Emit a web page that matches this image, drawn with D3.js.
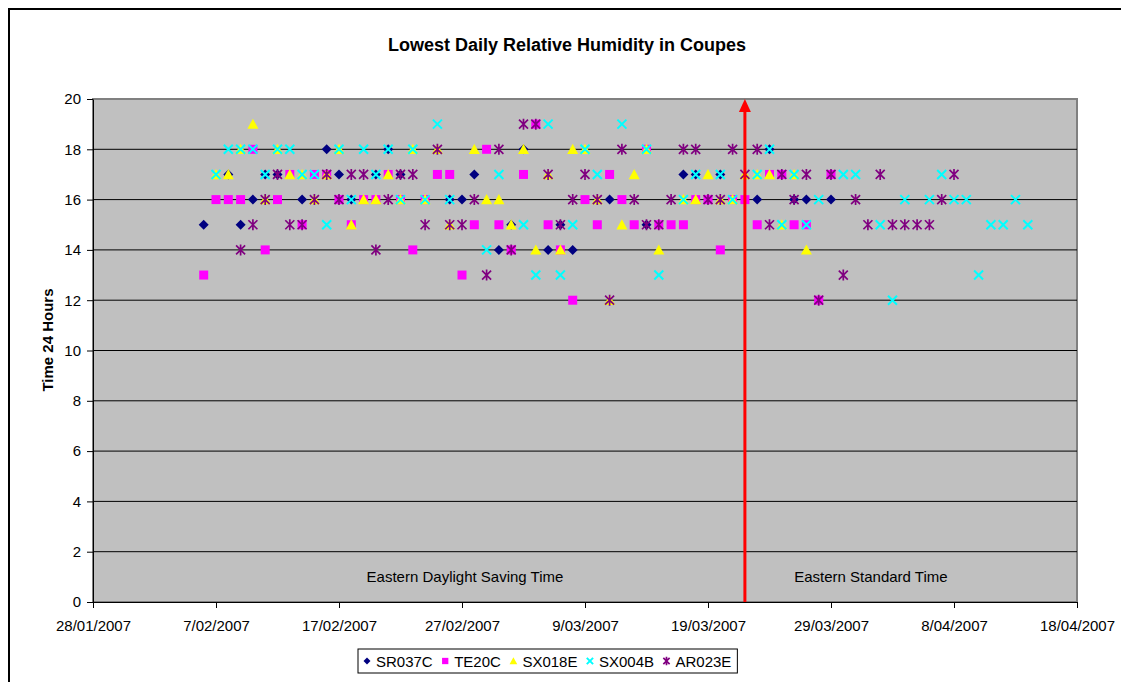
<!DOCTYPE html>
<html>
<head>
<meta charset="utf-8">
<script src="https://cdn.jsdelivr.net/npm/d3@7"></script>
<style>
	body { margin: 0; background: #ffffff; }
	svg { display: block; font-family: Arial, "Liberation Sans", sans-serif; }
</style>
</head>
<body>
<script>
//Width and height
var w = 1121;
var h = 682;
var plot = { left: 93, top: 99, right: 1077, bottom: 602 };

//Lowest daily RH, time of day (hour) per coupe
var SR037C = [
	["2007-02-06",15],["2007-02-08",17],["2007-02-09",15],["2007-02-10",16],["2007-02-11",17],["2007-02-12",17],
	["2007-02-14",16],["2007-02-16",18],["2007-02-17",17],["2007-02-18",16],["2007-02-20",17],["2007-02-21",18],
	["2007-02-22",17],["2007-02-26",16],["2007-02-27",16],["2007-02-28",17],["2007-03-02",14],["2007-03-03",15],
	["2007-03-04",18],["2007-03-06",14],["2007-03-07",15],["2007-03-08",14],["2007-03-11",16],["2007-03-14",15],
	["2007-03-17",17],["2007-03-18",17],["2007-03-20",17],["2007-03-23",16],["2007-03-24",18],["2007-03-26",16],
	["2007-03-27",16],["2007-03-29",16]
];
var TE20C = [
	["2007-02-06",13],["2007-02-07",16],["2007-02-08",16],["2007-02-09",16],["2007-02-10",18],["2007-02-11",14],
	["2007-02-12",16],["2007-02-13",17],["2007-02-14",15],["2007-02-15",17],["2007-02-16",17],["2007-02-17",16],
	["2007-02-18",15],["2007-02-19",16],["2007-02-20",16],["2007-02-21",17],["2007-02-22",16],["2007-02-23",14],
	["2007-02-24",16],["2007-02-25",17],["2007-02-26",17],["2007-02-27",13],["2007-02-28",15],["2007-03-01",18],
	["2007-03-02",15],["2007-03-03",14],["2007-03-04",17],["2007-03-05",19],["2007-03-06",15],["2007-03-07",14],
	["2007-03-08",12],["2007-03-09",16],["2007-03-10",15],["2007-03-11",17],["2007-03-12",16],["2007-03-13",15],
	["2007-03-14",18],["2007-03-15",15],["2007-03-16",15],["2007-03-17",15],["2007-03-18",16],["2007-03-19",16],
	["2007-03-20",14],["2007-03-21",16],["2007-03-22",16],["2007-03-23",15],["2007-03-24",17],["2007-03-25",17],
	["2007-03-26",15],["2007-03-27",15],["2007-03-28",12],["2007-03-29",17]
];
var SX018E = [
	["2007-02-07",17],["2007-02-08",17],["2007-02-09",18],["2007-02-10",19],["2007-02-11",16],["2007-02-12",18],
	["2007-02-13",17],["2007-02-14",17],["2007-02-15",16],["2007-02-16",17],["2007-02-17",18],["2007-02-18",15],
	["2007-02-19",16],["2007-02-20",16],["2007-02-21",17],["2007-02-22",16],["2007-02-23",18],["2007-02-24",16],
	["2007-02-25",18],["2007-02-26",15],["2007-02-28",18],["2007-03-01",16],["2007-03-02",16],["2007-03-03",15],
	["2007-03-04",18],["2007-03-05",14],["2007-03-06",17],["2007-03-07",14],["2007-03-08",18],["2007-03-09",18],
	["2007-03-10",16],["2007-03-11",12],["2007-03-12",15],["2007-03-13",17],["2007-03-14",18],["2007-03-15",14],
	["2007-03-17",16],["2007-03-18",16],["2007-03-19",17],["2007-03-20",16],["2007-03-21",16],["2007-03-22",17],
	["2007-03-23",17],["2007-03-24",17],["2007-03-25",15],["2007-03-26",17],["2007-03-27",14]
];
var SX004B = [
	["2007-02-07",17],["2007-02-08",18],["2007-02-09",18],["2007-02-10",18],["2007-02-11",17],["2007-02-12",18],
	["2007-02-13",18],["2007-02-14",17],["2007-02-15",17],["2007-02-16",15],["2007-02-17",18],["2007-02-18",16],
	["2007-02-19",18],["2007-02-20",17],["2007-02-21",18],["2007-02-22",16],["2007-02-23",18],["2007-02-24",16],
	["2007-02-25",19],["2007-02-26",16],["2007-03-01",14],["2007-03-02",17],["2007-03-04",15],["2007-03-05",13],
	["2007-03-06",19],["2007-03-07",13],["2007-03-08",15],["2007-03-09",18],["2007-03-10",17],["2007-03-12",19],
	["2007-03-14",18],["2007-03-15",13],["2007-03-17",16],["2007-03-18",17],["2007-03-20",17],["2007-03-21",16],
	["2007-03-23",17],["2007-03-24",18],["2007-03-25",15],["2007-03-26",17],["2007-03-27",15],["2007-03-28",16],
	["2007-03-30",17],["2007-03-31",17],["2007-04-02",15],["2007-04-03",12],["2007-04-04",16],["2007-04-06",16],
	["2007-04-07",17],["2007-04-08",16],["2007-04-09",16],["2007-04-10",13],["2007-04-11",15],["2007-04-12",15],
	["2007-04-13",16],["2007-04-14",15]
];
var AR023E = [
	["2007-02-09",14],["2007-02-10",15],["2007-02-11",16],["2007-02-12",17],["2007-02-13",15],["2007-02-14",15],
	["2007-02-15",16],["2007-02-16",17],["2007-02-17",16],["2007-02-18",17],["2007-02-19",17],["2007-02-20",14],
	["2007-02-21",16],["2007-02-22",17],["2007-02-23",17],["2007-02-24",15],["2007-02-25",18],["2007-02-26",15],
	["2007-02-27",15],["2007-02-28",16],["2007-03-01",13],["2007-03-02",18],["2007-03-03",14],["2007-03-04",19],
	["2007-03-05",19],["2007-03-06",17],["2007-03-07",15],["2007-03-08",16],["2007-03-09",17],["2007-03-10",16],
	["2007-03-11",12],["2007-03-12",18],["2007-03-13",16],["2007-03-14",15],["2007-03-15",15],["2007-03-16",16],
	["2007-03-17",18],["2007-03-18",18],["2007-03-19",16],["2007-03-20",16],["2007-03-21",18],["2007-03-22",17],
	["2007-03-23",18],["2007-03-24",15],["2007-03-25",17],["2007-03-26",16],["2007-03-27",17],["2007-03-28",12],
	["2007-03-29",17],["2007-03-30",13],["2007-03-31",16],["2007-04-01",15],["2007-04-02",17],["2007-04-03",15],
	["2007-04-04",15],["2007-04-05",15],["2007-04-06",15],["2007-04-07",16],["2007-04-08",17]
];

var seriesNames = ["SR037C", "TE20C", "SX018E", "SX004B", "AR023E"];
var seriesData = [SR037C, TE20C, SX018E, SX004B, AR023E];
var seriesColors = ["#000080", "#ff00ff", "#ffff00", "#00ffff", "#800080"];

//Axis ticks
var xTickLabels = ["28/01/2007", "7/02/2007", "17/02/2007", "27/02/2007", "9/03/2007",
	"19/03/2007", "29/03/2007", "8/04/2007", "18/04/2007"];
var yTicks = [0, 2, 4, 6, 8, 10, 12, 14, 16, 18, 20];

//Daylight saving change and period labels
var dstChange = "2007-03-22";
var periodDates = ["2007-02-27", "2007-04-01"];
var periodLabels = ["Eastern Daylight Saving Time", "Eastern Standard Time"];

var parseIso = d3.timeParse("%Y-%m-%d");
var parseTick = d3.timeParse("%d/%m/%Y");

//Scales
var xScale = d3.scaleTime()
	.domain([parseTick(xTickLabels[0]), parseTick(xTickLabels[xTickLabels.length - 1])])
	.range([plot.left, plot.right]);
var yScale = d3.scaleLinear()
	.domain([0, 20])
	.range([plot.bottom, plot.top]);

//Create SVG
var svg = d3.select("body")
	.append("svg")
	.attr("width", w)
	.attr("height", h);

//Outer chart frame
svg.append("rect")
	.attr("x", 9)
	.attr("y", 9)
	.attr("width", w + 20)
	.attr("height", h + 20)
	.style("fill", "#ffffff")
	.style("stroke", "#000000")
	.style("stroke-width", 2);

//Plot area
svg.append("rect")
	.attr("x", plot.left)
	.attr("y", plot.top)
	.attr("width", plot.right - plot.left)
	.attr("height", plot.bottom - plot.top)
	.style("fill", "#c0c0c0")
	.style("stroke", "#808080")
	.style("stroke-width", 2);

//Gridlines
svg.append("g").selectAll("line")
	.data(yTicks.slice(1, -1))
	.enter()
	.append("line")
	.attr("x1", plot.left)
	.attr("x2", plot.right)
	.attr("y1", function(d) { return yScale(d); })
	.attr("y2", function(d) { return yScale(d); })
	.style("stroke", "#000000")
	.style("stroke-width", 1);

//Y axis
var yAxis = d3.axisLeft(yScale)
	.tickValues(yTicks)
	.tickSize(6)
	.tickSizeOuter(0)
	.tickPadding(6);
var gy = svg.append("g")
	.attr("transform", "translate(" + plot.left + ",0)")
	.call(yAxis);

//X axis
var xAxis = d3.axisBottom(xScale)
	.tickValues(xTickLabels.map(parseTick))
	.tickFormat(function(d, i) { return xTickLabels[i]; })
	.tickSize(6)
	.tickSizeOuter(0)
	.tickPadding(12);
var gx = svg.append("g")
	.attr("transform", "translate(0," + plot.bottom + ")")
	.call(xAxis);

// Styling
svg.selectAll(".domain, .tick line")
	.style("stroke", "#000000");
svg.selectAll(".tick text")
	.style("font-family", "Arial, 'Liberation Sans', sans-serif")
	.style("font-size", "15px")
	.style("fill", "#000000");

//Title
svg.append("text")
	.attr("x", 567)
	.attr("y", 51)
	.attr("text-anchor", "middle")
	.style("font-size", "18px")
	.style("font-weight", "bold")
	.text("Lowest Daily Relative Humidity in Coupes");

//Y axis label
svg.append("text")
	.attr("transform", "translate(53,340) rotate(-90)")
	.attr("text-anchor", "middle")
	.style("font-size", "15px")
	.style("font-weight", "bold")
	.text("Time 24 Hours");

//Period labels
svg.append("g").selectAll("text")
	.data(periodLabels)
	.enter()
	.append("text")
	.attr("x", function(d, i) { return xScale(parseIso(periodDates[i])) + 3; })
	.attr("y", 582)
	.attr("text-anchor", "middle")
	.style("font-size", "15px")
	.text(function(d) { return d; });

//Marker shapes
function markerPath(i, s) {
	var r;
	if (i == 0) { r = 5 * s; return "M0," + (-r) + "L" + r + ",0L0," + r + "L" + (-r) + ",0Z"; }
	else if (i == 1) { r = 4.5 * s; return "M" + (-r) + "," + (-r) + "h" + 2 * r + "v" + 2 * r + "h" + (-2 * r) + "Z"; }
	else if (i == 2) { r = 5.5 * s; return "M0," + (-r) + "L" + r + "," + (0.85 * r) + "L" + (-r) + "," + (0.85 * r) + "Z"; }
	else if (i == 3) { r = 4.5 * s; return "M" + (-r) + "," + (-r) + "L" + r + "," + r + "M" + r + "," + (-r) + "L" + (-r) + "," + r; }
	else { r = 4.5 * s; return "M" + (-r) + "," + (-r) + "L" + r + "," + r + "M" + r + "," + (-r) + "L" + (-r) + "," + r + "M0," + (-r - 1) + "V" + (r + 1); }
}

function styleMarker(sel, i) {
	if (i >= 3) {
		sel.style("fill", "none")
			.style("stroke", seriesColors[i])
			.style("stroke-width", i == 3 ? 2 : 1.7);
	} else {
		sel.style("fill", seriesColors[i])
			.style("stroke", "none");
	}
}

//Points, series drawn in order so later ones are on top
seriesData.forEach(function(data, i) {
	var pts = svg.append("g")
		.attr("class", "series-" + seriesNames[i])
		.selectAll("path")
		.data(data)
		.enter()
		.append("path")
		.attr("d", markerPath(i, 1))
		.attr("transform", function(d) {
			return "translate(" + xScale(parseIso(d[0])) + "," + yScale(d[1]) + ")";
		});
	styleMarker(pts, i);
});

//Daylight saving change line with arrow
var xDst = xScale(parseIso(dstChange));
svg.append("line")
	.attr("x1", xDst)
	.attr("x2", xDst)
	.attr("y1", yScale(0))
	.attr("y2", yScale(20) + 10)
	.style("stroke", "#ff0000")
	.style("stroke-width", 3);
svg.append("path")
	.attr("d", "M" + xDst + "," + yScale(20) + "L" + (xDst + 6) + "," + (yScale(20) + 13) + "L" + (xDst - 6) + "," + (yScale(20) + 13) + "Z")
	.style("fill", "#ff0000");

//Legend
var legend = svg.append("g");
var box = legend.append("rect")
	.attr("y", 649)
	.attr("height", 24)
	.style("fill", "#ffffff")
	.style("stroke", "#000000")
	.style("stroke-width", 1);

var lx = 367;
seriesNames.forEach(function(name, i) {
	var m = legend.append("path")
		.attr("d", markerPath(i, 0.7))
		.attr("transform", "translate(" + lx + ",661)");
	styleMarker(m, i);
	var t = legend.append("text")
		.attr("x", lx + 9)
		.attr("y", 667)
		.style("font-size", "15px")
		.text(name);
	var tw = t.node().getComputedTextLength();
	if (i < seriesNames.length - 1) { lx = lx + 9 + tw + 12.5; }
	else { lx = lx + 9 + tw; }
});
box.attr("x", 358)
	.attr("width", lx + 6 - 358);
</script>
</body>
</html>
